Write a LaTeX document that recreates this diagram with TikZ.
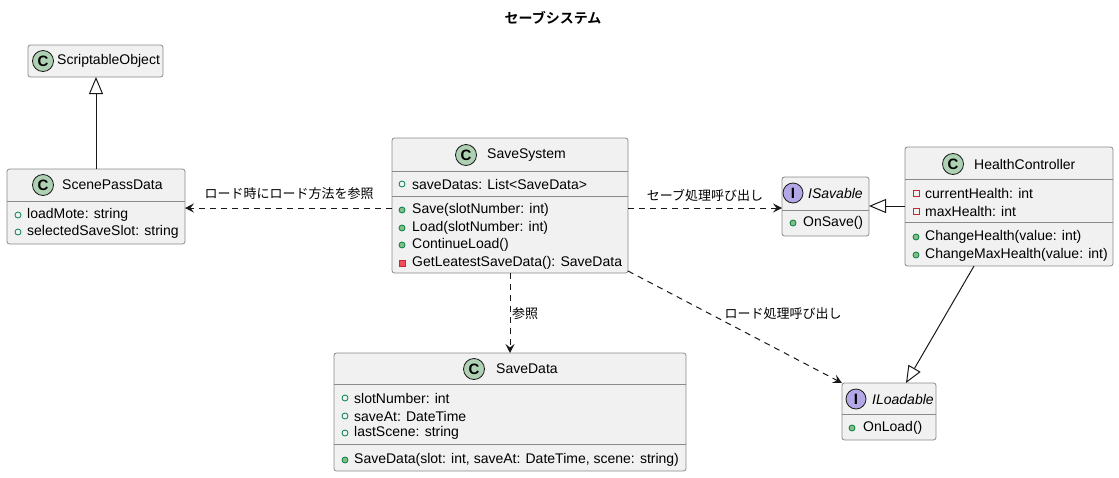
\documentclass[tikz,border=0pt]{standalone}
\usepackage{fontspec}
\setmainfont{Liberation Sans}
\newfontfamily\jp{Noto Sans CJK JP}[BoldFont={Noto Sans CJK JP Bold}]
\usetikzlibrary{arrows.meta}
\definecolor{boxfill}{HTML}{F1F1F1}
\definecolor{boxline}{HTML}{8A8A8A}
\definecolor{edgec}{HTML}{181818}
\definecolor{cfill}{HTML}{ADD1B2}
\definecolor{ifill}{HTML}{B4A7E5}
\definecolor{pubstroke}{HTML}{038048}
\definecolor{pubfill}{HTML}{84BE84}
\definecolor{privstroke}{HTML}{C82930}
\definecolor{privfill}{HTML}{F24D5C}
\newcommand\pubF[2]{\draw[draw=pubstroke, line width=0.8pt] (#1,#2) circle (3pt);}
\newcommand\pubM[2]{\draw[draw=pubstroke, fill=pubfill, line width=0.8pt] (#1,#2) circle (3pt);}
\newcommand\privF[2]{\draw[draw=privstroke, line width=0.8pt] (#1-3,#2-3) rectangle (#1+3,#2+3);}
\newcommand\privM[2]{\draw[draw=privstroke, fill=privfill, line width=0.8pt] (#1-3,#2-3) rectangle (#1+3,#2+3);}
\begin{document}
\begin{tikzpicture}[x=1pt,y=-1pt,
  box/.style={draw=boxline, line width=0.8pt, fill=boxfill, rounded corners=2.5pt, inner sep=0pt, outer sep=0pt, anchor=north west},
  sepl/.style={draw=boxline, line width=0.8pt},
  cname/.style={font=\fontsize{14}{16}\selectfont, anchor=west, inner sep=0pt},
  iname/.style={font=\itshape\fontsize{14}{16}\selectfont, anchor=west, inner sep=0pt},
  mem/.style={font=\fontsize{14}{16}\selectfont, anchor=west, inner sep=0pt},
  lbl/.style={font=\jp\fontsize{13}{15}\selectfont, inner sep=0pt},
  dep/.style={draw=edgec, line width=1pt, dash pattern=on 6pt off 5pt, -{Stealth[length=9pt,width=9pt,inset=3.5pt]}},
  inh/.style={draw=edgec, line width=1pt, -{Triangle[length=17pt,width=14pt,fill=white]}},
  cbadge/.style={circle, draw=edgec, line width=0.8pt, fill=cfill, minimum size=21pt, inner sep=0pt, font=\bfseries\fontsize{15}{15}\selectfont},
  ibadge/.style={circle, draw=edgec, line width=0.8pt, fill=ifill, minimum size=20pt, inner sep=0pt, font=\bfseries\fontsize{15}{15}\selectfont}
]
\useasboundingbox (0,0) rectangle (1119,477);

% title
\node[font=\jp\bfseries\fontsize{14}{16}\selectfont, inner sep=0pt] (title) at (553,18) {セーブシステム};

% ScriptableObject
\node[box, minimum width=135pt, minimum height=32pt] (so) at (28,45) {};
\node[cbadge] (so-c) at (43,61) {C};
\node[cname] (so-n) at (57,61) {ScriptableObject};

% ScenePassData
\node[box, minimum width=178pt, minimum height=75pt] (sp) at (7,169) {};
\draw[sepl] (7,201) -- (185,201);
\node[cbadge] (sp-c) at (43,185) {C};
\node[cname] (sp-n) at (62,185) {ScenePassData};
\pubF{18}{215}\node[mem] (sp-a1) at (27,215) {loadMote: string};
\pubF{18}{232}\node[mem] (sp-a2) at (27,232) {selectedSaveSlot: string};

% SaveSystem
\node[box, minimum width=236pt, minimum height=135pt] (ss) at (392,138) {};
\draw[sepl] (392,171) -- (628,171);
\draw[sepl] (392,196) -- (628,196);
\node[cbadge] (ss-c) at (466,155) {C};
\node[cname] (ss-n) at (487,155) {SaveSystem};
\pubF{402}{184}\node[mem] (ss-a1) at (412,184) {saveDatas: List<SaveData>};
\pubM{402}{210}\node[mem] (ss-m1) at (412,210) {Save(slotNumber: int)};
\pubM{402}{228}\node[mem] (ss-m2) at (412,228) {Load(slotNumber: int)};
\pubM{402}{245}\node[mem] (ss-m3) at (412,245) {ContinueLoad()};
\privM{402}{263}\node[mem] (ss-m4) at (412,263) {GetLeatestSaveData(): SaveData};

% ISavable
\node[box, minimum width=87pt, minimum height=59pt] (is) at (782,177) {};
\draw[sepl] (782,210) -- (869,210);
\node[ibadge] (is-c) at (793,193) {I};
\node[iname] (is-n) at (808,193) {ISavable};
\pubM{793}{223}\node[mem] (is-m1) at (803,223) {OnSave()};

% HealthController
\node[box, minimum width=208pt, minimum height=119pt] (hc) at (905,147) {};
\draw[sepl] (905,179) -- (1113,179);
\draw[sepl] (905,222) -- (1113,222);
\node[cbadge] (hc-c) at (953,164) {C};
\node[cname] (hc-n) at (974,164) {HealthController};
\privF{916}{193}\node[mem] (hc-a1) at (925,193) {currentHealth: int};
\privF{916}{211}\node[mem] (hc-a2) at (925,211) {maxHealth: int};
\pubM{916}{237}\node[mem] (hc-m1) at (925,237) {ChangeHealth(value: int)};
\pubM{916}{255}\node[mem] (hc-m2) at (925,255) {ChangeMaxHealth(value: int)};

% SaveData
\node[box, minimum width=352pt, minimum height=118pt] (sd) at (334,353) {};
\draw[sepl] (334,384) -- (686,384);
\draw[sepl] (334,444) -- (686,444);
\node[cbadge] (sd-c) at (474,369) {C};
\node[cname] (sd-n) at (496,369) {SaveData};
\pubF{345}{398}\node[mem] (sd-a1) at (354,398) {slotNumber: int};
\pubF{345}{416}\node[mem] (sd-a2) at (354,416) {saveAt: DateTime};
\pubF{345}{433}\node[mem] (sd-a3) at (354,433) {lastScene: string};
\pubM{345}{460}\node[mem] (sd-m1) at (354,460) {SaveData(slot: int, saveAt: DateTime, scene: string)};

% ILoadable
\node[box, minimum width=94pt, minimum height=57pt] (il) at (842,383) {};
\draw[sepl] (842,414) -- (936,414);
\node[ibadge] (il-c) at (856,399) {I};
\node[iname] (il-n) at (872,399) {ILoadable};
\pubM{852}{428}\node[mem] (il-m1) at (863,428) {OnLoad()};

% connectors
\draw[inh] (sp.north) -- (sp.north |- so.south);
\draw[dep] (ss.west |- 0,208) -- (sp.east |- 0,208);
\node[lbl] (l1) at (289,194) {ロード時にロード方法を参照};
\draw[dep] (ss.east |- 0,208) -- (is.west |- 0,208);
\node[lbl] (l2) at (705,195) {セーブ処理呼び出し};
\draw[inh] (hc.west |- 0,206) -- (is.east |- 0,206);
\draw[dep] (ss.south) -- (sd.north);
\node[lbl, anchor=west] (l3) at (512,314) {参照};
\draw[dep] ([yshift=2pt]ss.south east) -- (il.north west);
\node[lbl] (l4) at (783,314) {ロード処理呼び出し};
\draw[inh] (hc.south -| 974,0) -- (il.north -| 906,0);
\end{tikzpicture}
\end{document}
